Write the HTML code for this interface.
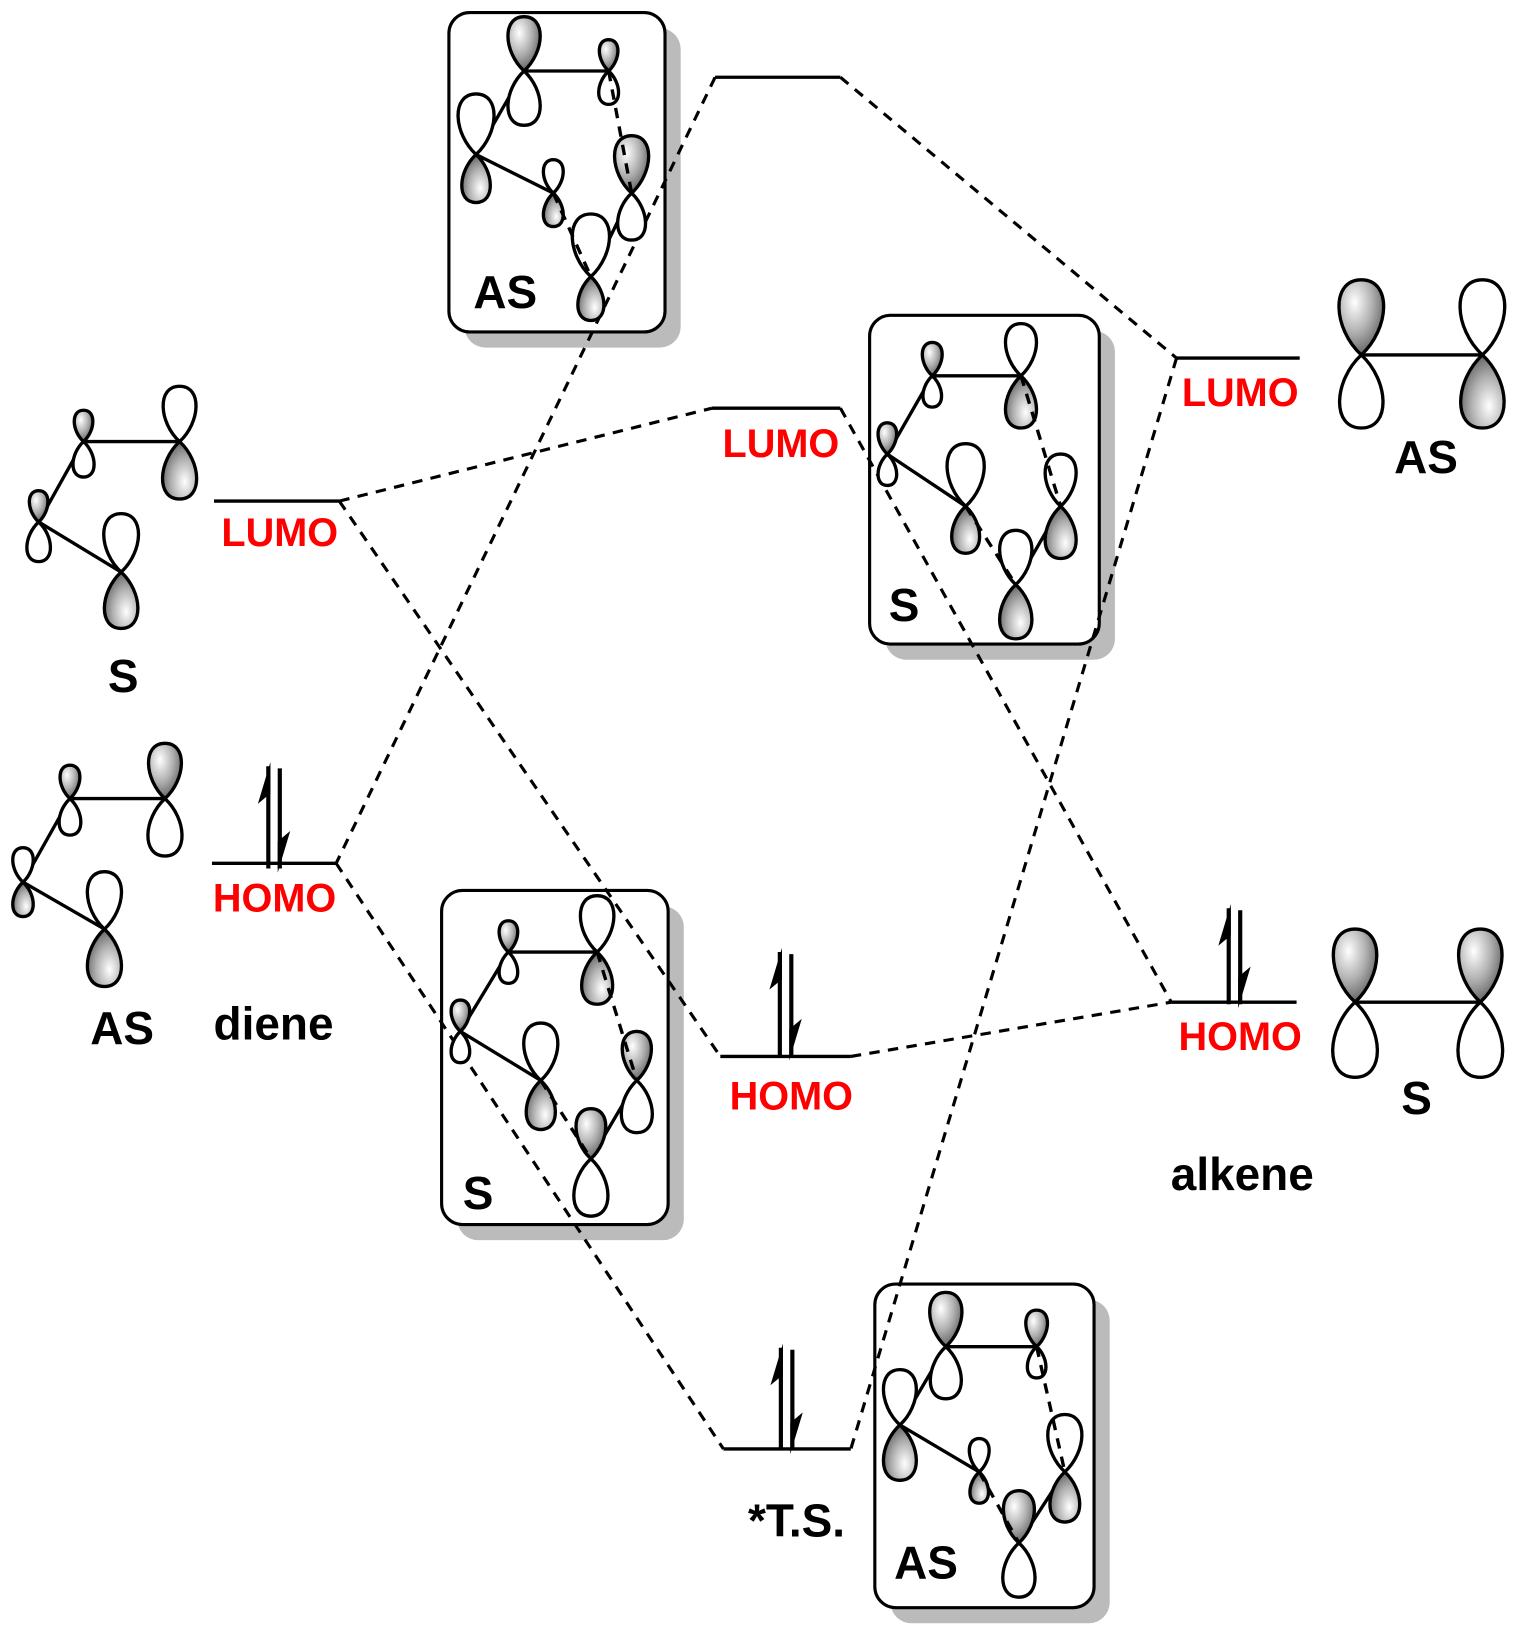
<!DOCTYPE html>
<html><head><meta charset="utf-8"><style>
html,body{margin:0;padding:0;background:#fff;}
svg{display:block;}
text{font-family:"Liberation Sans",Arial,sans-serif;font-weight:bold;text-anchor:middle;}
.r{fill:#f00;font-size:38px;}
.b{fill:#000;font-size:44px;}
</style></head><body>
<svg id="s" width="1520" height="1640" viewBox="0 0 1456 1571" xmlns="http://www.w3.org/2000/svg">
<defs>
<radialGradient id="g" cx="0.35" cy="0.3" r="0.8">
<stop offset="0" stop-color="#ffffff"/><stop offset="0.5" stop-color="#b0b0b0"/><stop offset="1" stop-color="#505050"/>
</radialGradient>
</defs>
<g id="boxes">
<rect x="445" y="27" width="207" height="306" rx="20" fill="#bbb"/>
<rect x="430" y="12" width="207" height="306" rx="20" fill="#fff" stroke="#000" stroke-width="3"/>
<rect x="848" y="317" width="220" height="315" rx="20" fill="#bbb"/>
<rect x="833" y="302" width="220" height="315" rx="20" fill="#fff" stroke="#000" stroke-width="3"/>
<rect x="438" y="868" width="217" height="320" rx="20" fill="#bbb"/>
<rect x="423" y="853" width="217" height="320" rx="20" fill="#fff" stroke="#000" stroke-width="3"/>
<rect x="853" y="1245" width="210" height="310" rx="20" fill="#bbb"/>
<rect x="838" y="1230" width="210" height="310" rx="20" fill="#fff" stroke="#000" stroke-width="3"/>
</g>
<g id="lines" stroke="#000" stroke-width="3.2" fill="none">
<line x1="685" y1="74" x2="805" y2="74"/>
<line x1="205" y1="480" x2="325" y2="480"/>
<line x1="203" y1="827" x2="322" y2="827"/>
<line x1="682" y1="391" x2="805" y2="391"/>
<line x1="1127" y1="343" x2="1245" y2="343"/>
<line x1="690" y1="1012" x2="815" y2="1012"/>
<line x1="1122" y1="960" x2="1242" y2="960"/>
<line x1="693" y1="1388" x2="815" y2="1388"/>
</g>
<g stroke="#000" stroke-width="3" fill="none" stroke-dasharray="10,8">
<line x1="685" y1="74" x2="322" y2="827"/>
<line x1="805" y1="74" x2="1127" y2="343"/>
<line x1="1127" y1="343" x2="815" y2="1388"/>
<line x1="325" y1="480" x2="682" y2="391"/>
<line x1="325" y1="480" x2="690" y2="1012"/>
<line x1="805" y1="391" x2="1122" y2="960"/>
<line x1="815" y1="1012" x2="1122" y2="960"/>
<line x1="322" y1="827" x2="693" y2="1388"/>
</g>
<g id="mol"></g>
<g id="arr"></g>
<text class="r" x="268" y="523">LUMO</text>
<text class="r" x="263" y="873">HOMO</text>
<text class="r" x="748" y="438">LUMO</text>
<text class="r" x="1188" y="389">LUMO</text>
<text class="r" x="758" y="1063">HOMO</text>
<text class="r" x="1188" y="1006">HOMO</text>
<text class="b" x="484" y="295">AS</text>
<text class="b" x="866" y="595">S</text>
<text class="b" x="458" y="1158">S</text>
<text class="b" x="887" y="1512">AS</text>
<text class="b" x="118" y="663">S</text>
<text class="b" x="117" y="1000">AS</text>
<text class="b" x="262" y="996">diene</text>
<text class="b" x="1366" y="453">AS</text>
<text class="b" x="1357" y="1067">S</text>
<text class="b" x="1190" y="1140">alkene</text>
<text class="b" x="763" y="1472">*T.S.</text>
</svg>
<script>
var NS="http://www.w3.org/2000/svg";
var mol=document.getElementById("mol");
function el(t,a,p){var e=document.createElementNS(NS,t);for(var k in a)e.setAttribute(k,a[k]);(p||mol).appendChild(e);return e;}
function lobe(x,y,dir,L,filled){
 var w=L*0.33;
 var d="M0,0 C"+(-w*1.15)+","+(-L*0.35)+" "+(-w*1.25)+","+(-L)+" 0,"+(-L)+" C"+(w*1.25)+","+(-L)+" "+(w*1.15)+","+(-L*0.35)+" 0,0Z";
 el("path",{d:d,transform:"translate("+x+","+y+")"+(dir>0?" rotate(180)":""),fill:filled?"url(#g)":"#fff",stroke:"#000","stroke-width":3.2});
}
function atom(a){lobe(a[0],a[1],-1,a[2],a[3]);lobe(a[0],a[1],1,a[4],!a[3]);}
function bond(a,b,dash){el("line",{x1:a[0],y1:a[1],x2:b[0],y2:b[1],stroke:"#000","stroke-width":3.2,"stroke-dasharray":dash?"10,8":"none"});}
function mol6(A){
 bond(A[0],A[1]);bond(A[2],A[0]);bond(A[2],A[3]);bond(A[5],A[4]);
 A.forEach(atom);
 bond(A[1],A[4],1);bond(A[3],A[5],1);
}
mol6([[502,68,52,1,52],[583,68,30,1,32],[456,148,58,0,46],[530,185,32,0,32],[605,185,55,1,45],[566,265,60,0,42]]);
mol6([[893,360,32,1,30],[978,360,50,0,50],[850,435,30,1,30],[925,485,60,0,45],[1016,485,50,0,50],[973,560,52,0,52]]);
mol6([[487,912,30,1,30],[572,912,54,0,50],[441,988,30,1,30],[518,1035,55,0,47],[610,1035,47,1,50],[566,1110,48,1,55]]);
mol6([[906,1290,52,1,50],[993,1290,35,1,30],[862,1365,53,0,53],[938,1410,32,0,30],[1020,1410,55,0,48],[976,1478,50,1,52]]);
bond([80,423],[172,423]);bond([37,500],[80,423]);bond([37,500],[116,548]);
[[80,423,30,1,34],[172,423,53,0,55],[37,500,30,1,38],[116,548,56,0,54]].forEach(atom);
bond([67,765],[158,765]);bond([22,845],[67,765]);bond([22,845],[100,890]);
[[67,765,32,1,35],[158,765,53,1,55],[22,845,33,0,33],[100,890,55,0,55]].forEach(atom);
bond([1304,340],[1420,340]);atom([1304,340,72,1,70]);atom([1420,340,72,0,70]);
bond([1298,960],[1418,960]);atom([1298,960,70,1,72]);atom([1418,960,70,1,72]);
var arr=document.getElementById("arr");
function pair(x,y1,y2){
 el("line",{x1:x,y1:y1+4,x2:x,y2:y2+4,stroke:"#000","stroke-width":4},arr);
 el("polygon",{points:(x+2)+","+y1+" "+(x-10)+","+(y1+40)+" "+(x+2)+","+(y1+30)},arr);
 var x2=x+11;
 el("line",{x1:x2,y1:y1+6,x2:x2,y2:y2+4,stroke:"#000","stroke-width":4},arr);
 el("polygon",{points:(x2-2)+","+(y2+8)+" "+(x2+10)+","+(y2-32)+" "+(x2-2)+","+(y2-22)},arr);
}
pair(257,730,828);
pair(747,908,1008);
pair(1177,866,958);
pair(748,1287,1385);
</script>
</body></html>
